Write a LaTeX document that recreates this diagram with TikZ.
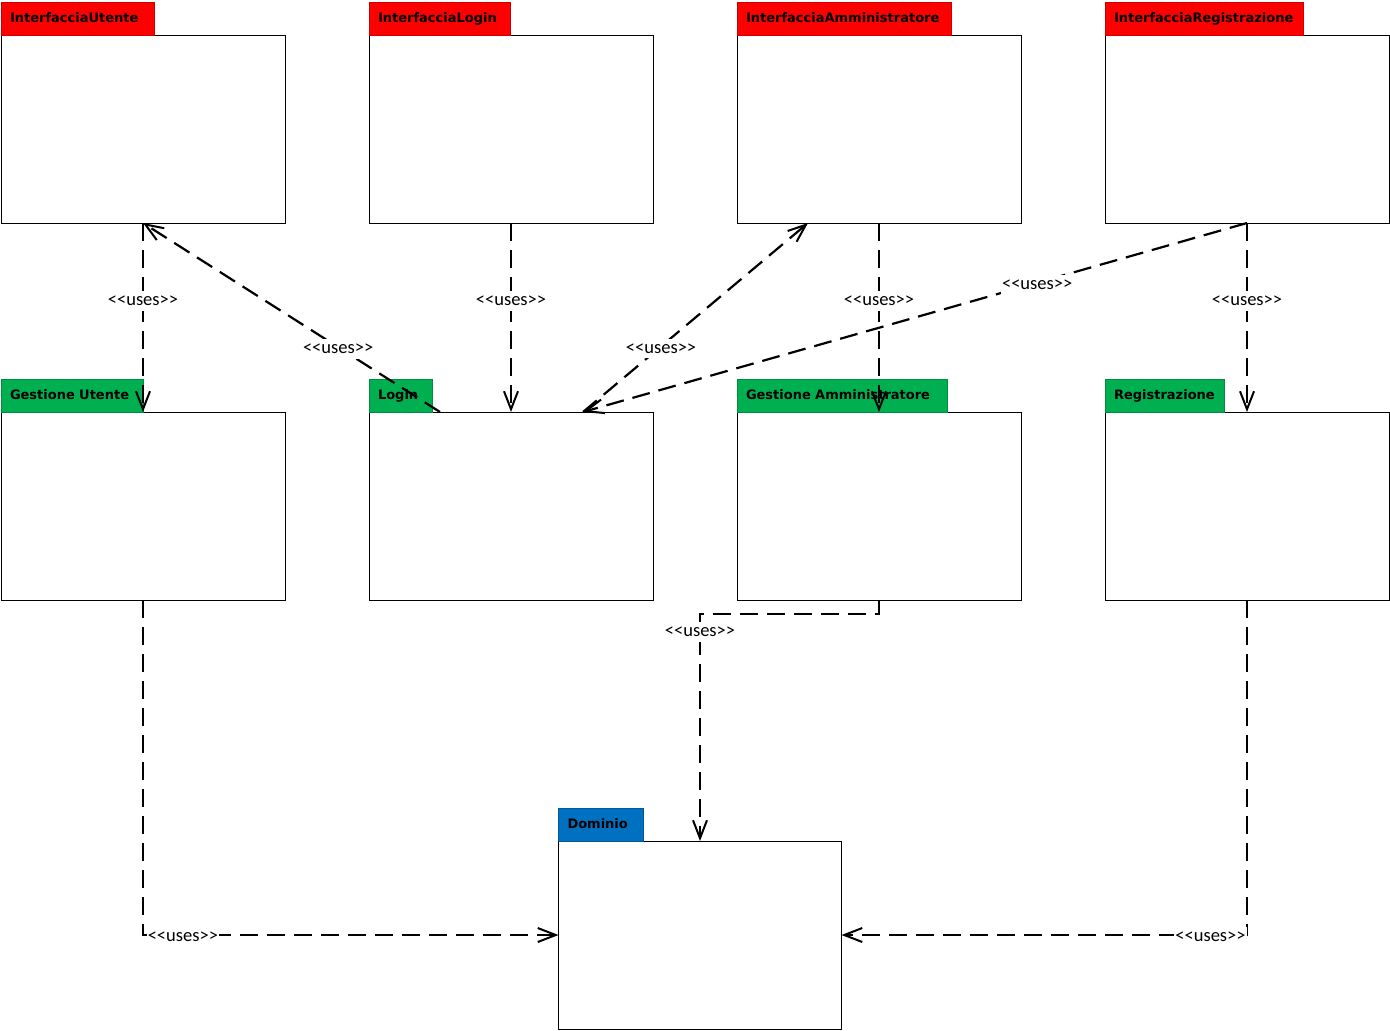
\documentclass[tikz,border=0pt]{standalone}
\usepackage{fontspec}
\setmainfont{DejaVu Sans}
\newfontfamily\lblfont{Carlito}
\usetikzlibrary{arrows.meta}
\definecolor{tabred}{HTML}{FF0000}
\definecolor{tabgreen}{HTML}{00B050}
\definecolor{tabblue}{HTML}{0070C0}
\begin{document}
\begin{tikzpicture}[x=1pt,y=-1pt,
  pkgbody/.style={draw=black, line width=0.9pt, fill=white, minimum width=284pt,
    minimum height=188pt, inner sep=0pt, outer sep=0pt},
  pkgtab/.style={draw=#1!80!black, line width=0.6pt, fill=#1, inner xsep=9pt,
    inner ysep=10pt, outer sep=0pt, anchor=south west, align=left,
    text height=10pt, text depth=3pt, font=\fontsize{13}{15}\selectfont\bfseries},
  uses/.style={line width=2.2pt, dash pattern=on 18pt off 9pt,
    -{Straight Barb[length=18pt,width=14pt,line width=2pt]}},
  useslabel/.style={fill=white, inner xsep=1pt, inner ysep=5pt, yshift=-2pt,
    font=\lblfont\fontsize{18.5}{20}\selectfont}
]
\useasboundingbox (0,0) rectangle (1390,1031);

% interface packages (top row)
\node[pkgbody] (iu) at (143,129) {};
\node[pkgtab=tabred, text width=135pt] (iutab) at (iu.north west) {InterfacciaUtente};
\node[pkgbody] (il) at (511,129) {};
\node[pkgtab=tabred, text width=123pt] (iltab) at (il.north west) {InterfacciaLogin};
\node[pkgbody] (ia) at (879,129) {};
\node[pkgtab=tabred, text width=196pt] (iatab) at (ia.north west) {InterfacciaAmministratore};
\node[pkgbody] (ir) at (1247,129) {};
\node[pkgtab=tabred, text width=180pt] (irtab) at (ir.north west) {InterfacciaRegistrazione};

% control packages (middle row)
\node[pkgbody] (gu) at (143,506) {};
\node[pkgtab=tabgreen, text width=124pt] (gutab) at (gu.north west) {Gestione Utente};
\node[pkgbody] (login) at (511,506) {};
\node[pkgtab=tabgreen, text width=45pt] (logintab) at (login.north west) {Login};
\node[pkgbody] (ga) at (879,506) {};
\node[pkgtab=tabgreen, text width=192pt] (gatab) at (ga.north west) {Gestione Amministratore};
\node[pkgbody] (rg) at (1247,506) {};
\node[pkgtab=tabgreen, text width=101pt] (rgtab) at (rg.north west) {Registrazione};

% domain package
\node[pkgbody, minimum width=283pt] (dom) at (700,935) {};
\node[pkgtab=tabblue, text width=67pt] (domtab) at (dom.north west) {Dominio};

% dependencies
\draw[uses] (iu.south) -- node[useslabel, pos=.40] {<<uses>>} (gu.north);
\draw[uses] ([xshift=-71pt]login.north) -- node[useslabel, pos=.343] {<<uses>>} (iu.south);
\draw[uses] (il.south) -- node[useslabel, pos=.40] {<<uses>>} (login.north);
\draw[uses] ([xshift=72pt]login.north) -- node[useslabel, pos=.347] {<<uses>>} ([xshift=-71pt]ia.south);
\draw[uses] (ia.south) -- node[useslabel, pos=.40] {<<uses>>} (ga.north);
\draw[uses] (ir.south) -- node[useslabel, pos=.316] {<<uses>>} ([xshift=72pt]login.north);
\draw[uses] (ir.south) -- node[useslabel, pos=.40] {<<uses>>} (rg.north);
\draw[uses] (ga.south) -- ++(0,14) coordinate (gaturn) -- (gaturn -| dom.north)
  -- node[useslabel, pos=.07] {<<uses>>} (dom.north);
\draw[uses] (gu.south) |- node[useslabel, pos=.548] {<<uses>>} (dom.west);
\draw[uses] (rg.south) |- node[useslabel, pos=.545] {<<uses>>} (dom.east);
\end{tikzpicture}
\end{document}
